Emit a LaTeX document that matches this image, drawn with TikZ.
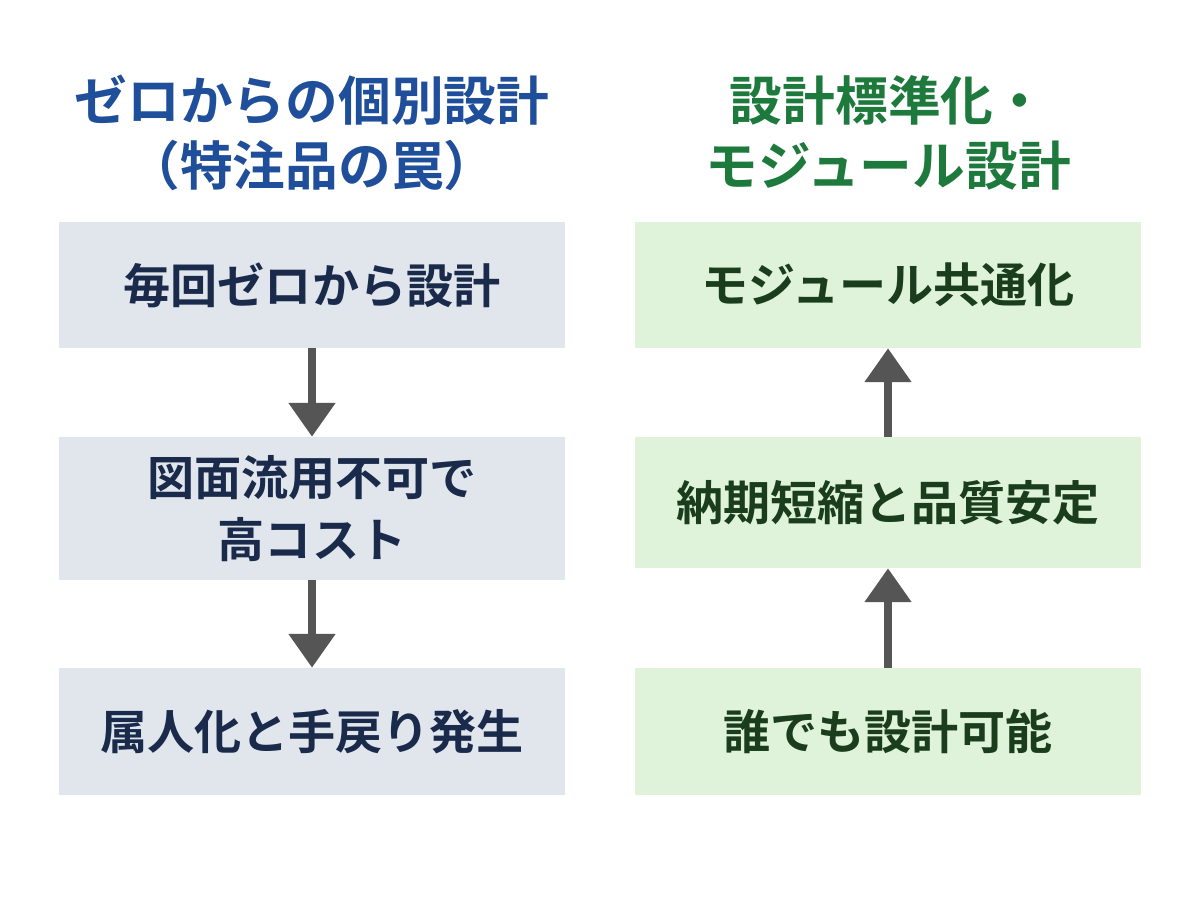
\documentclass[tikz,border=0pt]{standalone}
\usepackage{fontspec}
\newfontfamily\cjk{Noto Sans CJK JP Bold}
\usetikzlibrary{arrows.meta}
\definecolor{leftfill}{HTML}{E1E5EC}
\definecolor{rightfill}{HTML}{DFF2DA}
\definecolor{lefttext}{HTML}{1A2A4A}
\definecolor{righttext}{HTML}{1A3D1E}
\definecolor{titleblue}{HTML}{1F4E9A}
\definecolor{titlegreen}{HTML}{1E7A3C}
\definecolor{arrowgray}{HTML}{555555}
\tikzset{
  leftbox/.style={fill=leftfill, text=lefttext, minimum width=12.625cm, align=center, font=\cjk\fontsize{33.5}{44}\selectfont},
  rightbox/.style={fill=rightfill, text=righttext, minimum width=12.625cm, align=center, font=\cjk\fontsize{33.5}{44}\selectfont},
  title/.style={align=center, font=\cjk\fontsize{37.5}{46}\selectfont},
  flow/.style={draw=arrowgray, line width=5.5pt, -{Triangle[length=24pt,width=32pt]}}
}
\begin{document}
\begin{tikzpicture}[x=0.025cm,y=-0.025cm]
\fill[white] (0,0) rectangle (1200,896);

% left column
\node[title, text=titleblue] (ltitle) at (312,133) {ゼロからの個別設計\\（特注品の罠）};
\node[leftbox, minimum height=3.15cm] (l1) at (312,285) {毎回ゼロから設計};
\node[leftbox, minimum height=3.575cm] (l2) at (312,508.5) {図面流用不可で\\高コスト};
\node[leftbox, minimum height=3.175cm] (l3) at (312,731.5) {属人化と手戻り発生};
\draw[flow] (l1) -- (l2);
\draw[flow] (l2) -- (l3);

% right column
\node[title, text=titlegreen] (rtitle) at (888,133) {設計標準化・\\モジュール設計};
\node[rightbox, minimum height=3.15cm] (r1) at (888,285) {モジュール共通化};
\node[rightbox, minimum height=3.275cm] (r2) at (888,502.5) {納期短縮と品質安定};
\node[rightbox, minimum height=3.175cm] (r3) at (888,731.5) {誰でも設計可能};
\draw[flow] (r3) -- (r2);
\draw[flow] (r2) -- (r1);
\end{tikzpicture}
\end{document}
